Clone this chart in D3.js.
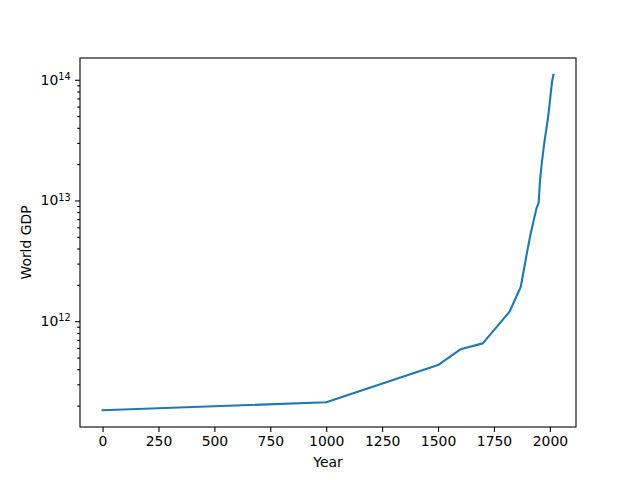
<!DOCTYPE html>
<html>
  <head>
    <meta charset="utf-8">
    <title>World GDP</title>
    <script src="https://d3js.org/d3.v7.min.js"></script>
    <style>
      body { margin: 0; background: #fff; }
      svg { display: block; }
      .axis text { font-family: "DejaVu Sans", sans-serif; font-size: 13.9px; fill: #000; }
      .axis line { stroke: #000; stroke-width: 1.1; }
      .axis path { display: none; }
      .label { font-family: "DejaVu Sans", sans-serif; font-size: 13.9px; fill: #000; }
    </style>
  </head>
  <body>
    <script>
      // data
      var years = [0, 1000, 1500, 1600, 1700, 1820, 1870, 1900, 1913, 1929, 1940, 1950,
                   1955, 1960, 1965, 1970, 1975, 1980, 1985, 1990, 1995, 2000, 2005, 2010, 2016];
      var gdp = [1.83e11, 2.13e11, 4.33e11, 5.85e11, 6.55e11, 1.2e12, 1.93e12, 3.9e12, 5.2e12,
                 7.0e12, 8.6e12, 9.6e12, 1.38e13, 1.76e13, 2.13e13, 2.53e13, 3.0e13, 3.48e13,
                 3.98e13, 4.62e13, 5.45e13, 6.62e13, 8.04e13, 9.75e13, 1.1e14];
      var xTicks = [0, 250, 500, 750, 1000, 1250, 1500, 1750, 2000];
      var yTicks = [1e12, 1e13, 1e14];

      var data = years.map(function(y, i) { return { year: y, gdp: gdp[i] }; });

      // plot area (window.top is reserved, so use other names)
      var pLeft = 80, pRight = 576, pTop = 58, pBottom = 427;

      var svg = d3.select("body").append("svg")
                  .attr("width", 640)
                  .attr("height", 480);

      // 5% margins like matplotlib
      var xr = d3.extent(years), xm = (xr[1] - xr[0]) * 0.05;
      var xScale = d3.scaleLinear()
                     .domain([xr[0] - xm, xr[1] + xm])
                     .range([pLeft, pRight]);
      var lr = d3.extent(gdp).map(Math.log10), lm = (lr[1] - lr[0]) * 0.05;
      var yScale = d3.scaleLog()
                     .domain([Math.pow(10, lr[0] - lm), Math.pow(10, lr[1] + lm)])
                     .range([pBottom, pTop]);

      // minor ticks on the log axis
      var minor = [];
      for (var e = 11; e <= 14; e++) {
        for (var m = 2; m <= 9; m++) {
          var v = m * Math.pow(10, e);
          if (v >= yScale.domain()[0] && v <= yScale.domain()[1]) minor.push(v);
        }
      }
      svg.append("g")
         .attr("class", "axis")
         .attr("transform", "translate(" + pLeft + ",0)")
         .call(d3.axisLeft(yScale).tickValues(minor).tickSize(2.8).tickSizeOuter(0).tickFormat(""));

      // major y ticks with superscript exponents
      var yAxis = svg.append("g")
         .attr("class", "axis")
         .attr("transform", "translate(" + pLeft + ",0)")
         .call(d3.axisLeft(yScale).tickValues(yTicks).tickSize(4.9).tickPadding(4.5).tickSizeOuter(0));
      yAxis.selectAll(".tick text").each(function(d) {
        var t = d3.select(this);
        t.text("10");
        t.append("tspan")
         .attr("dy", "-0.5em")
         .style("font-size", "9.7px")
         .text(Math.round(Math.log10(d)));
      });

      svg.append("g")
         .attr("class", "axis")
         .attr("transform", "translate(0," + pBottom + ")")
         .call(d3.axisBottom(xScale).tickValues(xTicks).tickFormat(d3.format("d"))
                 .tickSize(4.9).tickPadding(4.5).tickSizeOuter(0));

      // line
      var line = d3.line()
                   .x(function(d) { return xScale(d.year); })
                   .y(function(d) { return yScale(d.gdp); });
      svg.append("path")
         .datum(data)
         .attr("d", line)
         .attr("fill", "none")
         .attr("stroke", "#1f77b4")
         .attr("stroke-width", 2.1)
         .attr("stroke-linejoin", "round")
         .attr("stroke-linecap", "square");

      // frame
      svg.append("rect")
         .attr("x", pLeft)
         .attr("y", pTop)
         .attr("width", pRight - pLeft)
         .attr("height", pBottom - pTop)
         .attr("fill", "none")
         .attr("stroke", "#000")
         .attr("stroke-width", 1.1);

      svg.append("text")
         .attr("class", "label")
         .attr("x", (pLeft + pRight) / 2)
         .attr("y", 467)
         .attr("text-anchor", "middle")
         .text("Year");

      svg.append("text")
         .attr("class", "label")
         .attr("transform", "translate(30.5," + (pTop + pBottom) / 2 + ") rotate(-90)")
         .attr("text-anchor", "middle")
         .text("World GDP");
    </script>
  </body>
</html>
